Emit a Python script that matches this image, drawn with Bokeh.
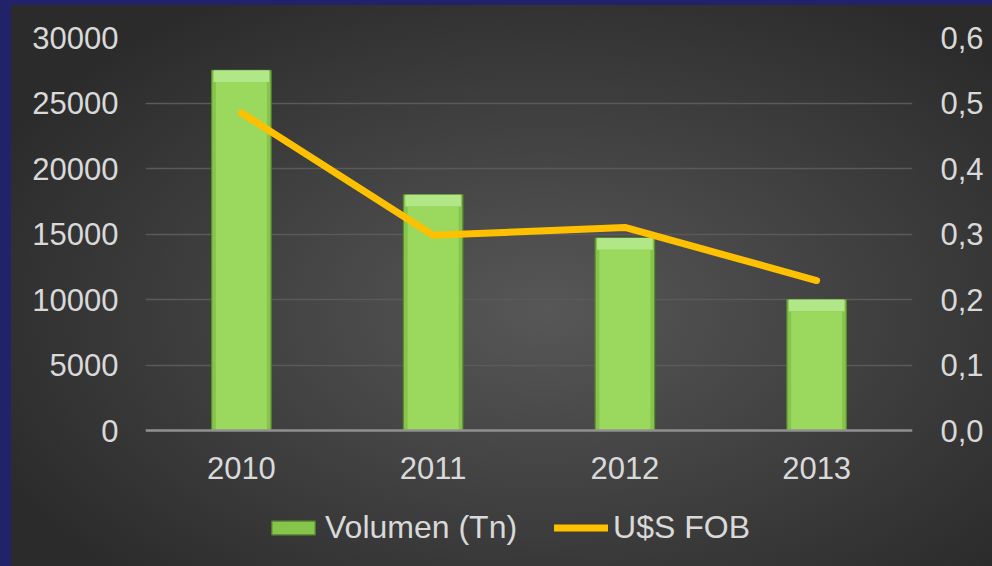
from bokeh.plotting import figure
from bokeh.models import (Range1d, LinearAxis, Legend, LegendItem, Span,
                          CustomJSTickFormatter, FixedTicker)
from bokeh.core.properties import value
from bokeh.embed import file_html
from bokeh.resources import INLINE

# ---- data ----
years = ["2010", "2011", "2012", "2013"]
volumen = [27500, 18000, 14700, 10000]
fob = [0.485, 0.298, 0.31, 0.229]
left_ticks = [0, 5000, 10000, 15000, 20000, 25000, 30000]
right_ticks = [0.0, 0.1, 0.2, 0.3, 0.4, 0.5, 0.6]

FONT = "Liberation Sans"
TXT = "#d9d9d9"
FS = "31px"

# frame reaches down to the bottom so that the legend fits inside it
VMAX, RMAX = 30000, 0.6
below_frac = 136 / 393.0
p = figure(width=992, height=566, x_range=years,
           y_range=Range1d(-VMAX * below_frac, VMAX),
           x_axis_location=None,
           output_backend="svg", toolbar_location=None,
           min_border_left=145, min_border_right=80, min_border_top=37,
           min_border_bottom=0,
           background_fill_alpha=0, border_fill_alpha=0,
           outline_line_color=None)
p.x_range.range_padding = 0
p.extra_y_ranges = {"fob": Range1d(-RMAX * below_frac, RMAX)}

# grid
p.xgrid.grid_line_color = None
p.ygrid.grid_line_color = "#5a5a5a"
p.ygrid.grid_line_width = 1.5
p.ygrid.ticker = FixedTicker(ticks=left_ticks)

# left axis
ya = p.yaxis[0]
ya.ticker = FixedTicker(ticks=left_ticks)
ya.formatter = CustomJSTickFormatter(code="return tick.toFixed(0);")
ya.axis_line_color = None
ya.major_tick_line_color = None
ya.minor_tick_line_color = None
ya.major_label_standoff = 21
ya.major_label_text_font = FONT
ya.major_label_text_font_size = FS
ya.major_label_text_color = TXT

# right axis
ra = LinearAxis(y_range_name="fob", ticker=FixedTicker(ticks=right_ticks),
                formatter=CustomJSTickFormatter(
                    code="return tick.toFixed(1).replace('.', ',');"))
ra.axis_line_color = None
ra.major_tick_line_color = None
ra.minor_tick_line_color = None
ra.major_label_standoff = 22
ra.major_label_text_font = FONT
ra.major_label_text_font_size = FS
ra.major_label_text_color = TXT
p.add_layout(ra, "right")

# bars (bevelled look)
outer = p.vbar(x=years, top=volumen, width=0.31, fill_color="#86c44c",
               line_color="#5b8c31", line_width=1.2)
p.vbar(x=years, top=volumen, bottom=[v - 900 for v in volumen], width=0.29,
       fill_color="#b2e788", line_color=None)
p.vbar(x=years, top=[v - 900 for v in volumen], width=0.266,
       fill_color="#9ad95d", line_color=None)

# x axis line and category labels
p.add_layout(Span(location=0, dimension="width", line_color="#8f8f8f",
                  line_width=2.5))
p.text(x=years, y=[0] * len(years), text=years, y_offset=37,
       text_align="center", text_baseline="middle",
       text_font=value(FONT), text_font_size=FS, text_color=TXT)

# line
ln = p.line(x=years, y=fob, y_range_name="fob", line_color="#ffc000",
            line_width=7, line_cap="round", line_join="round")

legend = Legend(items=[LegendItem(label="Volumen (Tn)", renderers=[outer]),
                       LegendItem(label="U$S FOB", renderers=[ln])],
                orientation="horizontal", location=(121, 20),
                background_fill_alpha=0, border_line_color=None,
                label_text_font=FONT, label_text_font_size="32px",
                label_text_color=TXT, glyph_width=54, glyph_height=17,
                spacing=37, label_standoff=5, margin=0, padding=0)
p.add_layout(legend, "center")

html = file_html(p, INLINE)
css = ("<style>body{background-color:#2c2c2c;"
       "background-image:linear-gradient(to right,#22226a 0,#22226a 11px,transparent 11px),"
       "linear-gradient(to bottom,#22226a 0,#22226a 5px,transparent 5px),"
       "radial-gradient(ellipse 62% 65% at 55% 55%,#575757 0%,#2b2b2b 100%);"
       "background-attachment:fixed;overflow:hidden;}</style>")
html = html.replace("<head>", "<head>" + css, 1)
open("out.html", "w").write(html)
